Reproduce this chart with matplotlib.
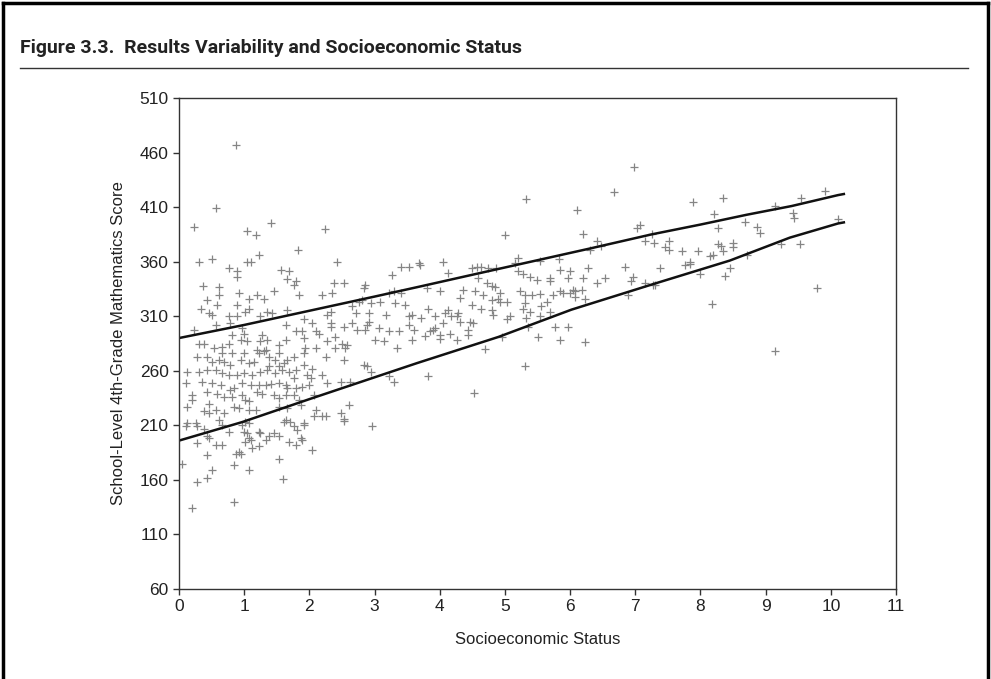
import matplotlib
matplotlib.use("Agg")
import matplotlib.pyplot as plt
from matplotlib import font_manager
from matplotlib.lines import Line2D

# school-level results: socioeconomic status vs. 4th-grade maths score
ses = [
    0.87, 0.56, 0.23, 1.04, 1.18, 1.41, 2.24, 1.23, 1.82, 0.51, 0.31, 1.05, 1.11, 2.43,
    0.77, 0.89, 1.56, 1.69, 3.40, 3.53, 3.27, 0.89, 1.66, 1.79, 1.76, 0.37, 0.61, 2.86,
    2.84, 2.38, 2.53, 0.92, 1.20, 1.46, 1.84, 2.20, 2.35, 0.61, 1.07, 1.30, 0.43, 3.30,
    3.22, 3.40, 2.81, 2.76, 2.66, 2.94, 3.32, 3.47, 3.09, 0.89, 0.59, 0.33, 1.07, 1.02,
    1.35, 0.46, 0.51, 0.77, 0.89, 1.25, 1.43, 1.66, 2.33, 2.27, 2.71, 2.91, 2.91, 3.17,
    3.53, 3.58, 0.56, 0.23, 0.79, 0.97, 1.64, 1.92, 2.04, 2.33, 2.33, 2.53, 2.66, 2.89,
    3.07, 3.22, 3.53, 3.58, 0.82, 1.00, 1.28, 2.10, 2.15, 1.79, 1.89, 2.73, 2.86, 3.37,
    3.60, 0.31, 0.38, 0.54, 0.66, 0.77, 0.95, 1.05, 1.25, 1.35, 1.53, 1.64, 1.94, 2.10,
    2.27, 2.50, 2.58, 2.55, 3.01, 3.14, 3.35, 2.40, 1.92, 0.28, 0.43, 0.66, 0.82, 1.00,
    1.23, 1.30, 1.20, 1.33, 1.38, 1.53, 1.48, 1.76, 1.66, 1.92, 2.25, 2.40, 2.53, 2.84,
    2.89, 2.94, 0.51, 0.61, 0.69, 0.79, 0.95, 1.07, 1.15, 1.38, 1.53, 1.61, 1.69, 1.79,
    1.92, 2.04, 2.20, 0.13, 0.31, 0.43, 0.56, 0.66, 0.77, 0.89, 1.00, 1.12, 1.25, 1.35,
    1.48, 1.58, 1.76, 1.97, 2.02, 2.48, 2.63, 3.22, 3.30, 0.10, 0.36, 0.51, 0.64, 0.79,
    0.84, 0.97, 1.10, 1.23, 1.33, 1.41, 1.53, 1.64, 1.66, 1.79, 1.89, 1.99, 2.27, 0.20,
    0.20, 0.13, 0.43, 0.46, 0.59, 0.69, 0.82, 0.97, 1.02, 1.07, 1.20, 1.28, 1.46, 1.53,
    1.64, 1.76, 1.84, 2.07, 0.38, 0.46, 0.56, 0.69, 0.84, 0.92, 1.07, 1.18, 1.53, 1.66,
    1.87, 2.10, 2.25, 2.61, 2.07, 2.20, 2.48, 2.53, 0.13, 0.26, 0.61, 1.02, 1.07, 1.64,
    1.71, 1.92,
    0.10, 0.28, 0.38, 0.66, 0.77, 0.97, 0.43, 0.46, 0.28, 0.56, 0.66, 1.00, 1.05, 1.23,
    1.25, 1.07, 1.10, 1.02, 1.33, 1.38, 1.46, 1.53, 1.69, 1.76, 1.81, 1.92, 1.61, 1.79,
    1.87, 1.89, 1.12, 1.23, 0.92, 0.87, 0.95, 0.43, 0.84, 1.07, 1.53, 2.04, 2.53, 2.96,
    0.04, 0.51, 0.43, 0.28, 1.59, 0.84, 0.20,
    6.98, 6.67, 5.33, 6.11, 5.00, 6.20, 6.41, 6.31, 6.48, 7.02, 7.07, 7.15, 4.05, 3.68,
    5.20, 5.15, 5.54, 5.83,
    3.70, 4.13, 4.49, 4.57, 4.64, 4.74, 4.87, 4.59, 5.20, 5.28, 5.38, 5.49, 5.69, 5.69,
    5.84, 6.00, 5.97, 6.20, 6.28, 6.41, 6.53, 6.84, 6.97, 6.94, 7.15, 6.89, 7.27, 3.80,
    4.00, 4.36, 4.31, 4.54, 4.72, 4.80, 4.85, 4.67, 4.80, 4.92, 4.92, 4.90, 5.03, 5.23,
    5.31, 5.41, 5.54, 5.64, 5.74, 5.84, 5.89, 6.00, 6.05, 6.07, 6.18, 6.07, 6.23, 5.31,
    5.28, 5.38, 5.56, 5.69, 5.54, 5.33, 3.82, 4.49, 4.64, 4.80, 4.82, 4.13, 4.08, 4.28,
    4.26, 3.72, 3.93, 4.18, 4.31, 4.46, 4.51, 4.05, 5.03, 5.08, 3.93, 3.90, 3.85, 4.00,
    4.00, 4.16, 4.26, 4.44, 4.44, 3.77, 5.77, 5.97, 5.50, 5.84, 6.23, 5.36, 4.95, 4.69,
    5.31, 3.82, 4.53,
    9.91, 9.55, 9.14, 9.42, 9.43, 10.11, 9.52, 9.24, 8.35, 7.89, 8.21, 8.27, 8.68, 8.86,
    8.91, 7.26, 7.28, 7.51, 7.45, 7.51, 7.71, 7.97, 8.27, 8.32, 8.35, 8.50, 8.50, 8.14,
    8.19, 8.71, 7.84,
    7.38, 7.76, 7.84, 7.99, 8.37, 8.45, 7.30, 8.18, 9.79, 9.15,
]
score = [
    467, 409, 392, 388, 384, 395, 390, 366, 371, 362, 360, 360, 360, 360,
    354, 351, 352, 351, 355, 355, 348, 346, 344, 342, 339, 338, 337, 339,
    336, 340, 340, 331, 329, 333, 329, 329, 331, 329, 326, 326, 325, 333,
    331, 331, 325, 323, 319, 322, 322, 320, 323, 320, 320, 317, 317, 314,
    314, 313, 311, 310, 310, 310, 313, 316, 314, 311, 313, 313, 305, 311,
    310, 311, 302, 297, 304, 299, 302, 307, 304, 304, 300, 300, 304, 302,
    299, 296, 302, 288, 293, 294, 293, 296, 294, 296, 296, 297, 297, 296,
    297, 285, 285, 281, 282, 285, 288, 287, 287, 288, 284, 288, 281, 281,
    287, 285, 284, 281, 288, 287, 281, 291, 290, 273, 273, 276, 276, 276,
    276, 278, 279, 279, 273, 276, 270, 273, 270, 276, 273, 281, 270, 265,
    264, 259, 268, 270, 268, 265, 270, 267, 268, 264, 264, 267, 259, 261,
    265, 262, 256, 259, 259, 261, 261, 258, 256, 256, 258, 256, 259, 261,
    258, 261, 253, 256, 253, 250, 250, 255, 250, 249, 250, 249, 247, 242,
    244, 249, 247, 247, 247, 248, 249, 247, 244, 244, 245, 247, 249, 238,
    233, 227, 241, 230, 239, 236, 236, 238, 233, 232, 241, 239, 238, 235,
    238, 238, 233, 238, 223, 221, 224, 221, 227, 226, 224, 224, 227, 226,
    229, 224, 219, 229, 219, 219, 221, 216, 212, 212, 215, 213, 212, 215,
    213, 212,
    209, 209, 207, 210, 204, 210, 200, 198, 194, 192, 192, 204, 203, 204,
    203, 198, 197, 195, 197, 200, 203, 200, 195, 209, 206, 210, 213, 192,
    198, 197, 189, 191, 186, 184, 184, 183, 174, 169, 179, 187, 214, 209,
    175, 169, 162, 158, 161, 140, 134,
    447, 424, 417, 407, 384, 385, 379, 371, 374, 391, 394, 379, 360, 359,
    363, 359, 361, 362,
    357, 350, 354, 355, 355, 354, 354, 345, 351, 349, 346, 343, 345, 342,
    352, 351, 345, 345, 354, 340, 345, 355, 346, 342, 340, 329, 339, 336,
    333, 334, 327, 333, 340, 338, 337, 329, 325, 331, 323, 326, 323, 333,
    329, 329, 330, 323, 329, 333, 331, 331, 334, 333, 334, 328, 326, 322,
    317, 314, 319, 314, 310, 308, 317, 320, 317, 316, 311, 316, 313, 313,
    310, 308, 310, 310, 305, 305, 304, 304, 307, 310, 299, 297, 296, 293,
    289, 294, 288, 293, 297, 292, 300, 300, 291, 288, 286, 300, 291, 280,
    264, 255, 240,
    425, 418, 411, 405, 400, 399, 376, 376, 418, 415, 404, 391, 396, 392,
    386, 385, 377, 379, 373, 371, 370, 370, 376, 374, 370, 377, 373, 365,
    366, 366, 360,
    354, 357, 358, 349, 347, 354, 339, 321, 336, 278,
]

# upper and lower boundary curves of the score band
upper_x = [0.0, 1.0, 2.0, 3.0, 3.68, 4.5, 5.4, 6.3, 7.25, 8.0, 8.71, 9.4, 10.11, 10.2]
upper_y = [290, 302, 315, 328, 337, 348, 360, 372, 385, 394, 403, 411, 421, 422]
lower_x = [0.0, 0.97, 2.0, 3.0, 3.65, 4.9, 6.02, 7.25, 8.45, 9.37, 10.11, 10.2]
lower_y = [196, 213, 234, 254, 267, 291, 316, 339, 361, 382, 395, 396]

x_ticks = list(range(0, 12))
y_ticks = list(range(60, 511, 50))

# a narrow bold face for the heading, if one is installed
installed = {f.name for f in font_manager.fontManager.ttflist}
if "Liberation Sans Narrow" in installed:
    head_font, head_size = "Liberation Sans Narrow", 15.5
else:
    head_font, head_size = "Roboto", 14

fig = plt.figure(figsize=(9.91, 6.79), dpi=100)
ax = fig.add_axes([179 / 991, 1 - 589 / 679, 717 / 991, 491 / 679])

ax.plot(ses, score, linestyle="none", marker="+", markersize=5.5,
        markeredgewidth=0.9, color="#858585")
ax.plot(upper_x, upper_y, color="#111111", linewidth=1.8)
ax.plot(lower_x, lower_y, color="#111111", linewidth=1.8)

ax.set_xlim(0, 11)
ax.set_ylim(60, 510)
ax.set_xticks(x_ticks)
ax.set_yticks(y_ticks)
ax.tick_params(direction="out", length=4, width=1, colors="#333333",
               labelsize=12.5, labelcolor="#222222")
for tick in ax.get_xticklabels() + ax.get_yticklabels():
    tick.set_family("Liberation Sans")
for s in ax.spines.values():
    s.set_color("#333333")
    s.set_linewidth(1.0)

ax.set_xlabel("Socioeconomic Status", fontsize=12, family="Liberation Sans",
              color="#222222", labelpad=13)
ax.set_ylabel("School-Level 4th-Grade Mathematics Score", fontsize=12,
              family="Liberation Sans", color="#222222", labelpad=10)

# heading, rule under it and the frame round the figure
fig.text(20 / 991, 1 - 48 / 679, "Figure 3.3.  Results Variability and Socioeconomic Status",
         fontsize=head_size, fontweight="bold", family=[head_font, "DejaVu Sans"],
         color="#222222", va="center", ha="left")
fig.add_artist(Line2D([20 / 991, 968 / 991], [1 - 68 / 679, 1 - 68 / 679],
                      color="#333333", linewidth=1.0))
fig.add_artist(Line2D([3 / 991, 3 / 991], [0, 1 - 3 / 679], color="black", linewidth=2.5))
fig.add_artist(Line2D([3 / 991, 988 / 991], [1 - 3 / 679, 1 - 3 / 679], color="black", linewidth=2.5))
fig.add_artist(Line2D([988 / 991, 988 / 991], [0, 1 - 3 / 679], color="black", linewidth=2.5))

fig.savefig("out.png", dpi=100)
